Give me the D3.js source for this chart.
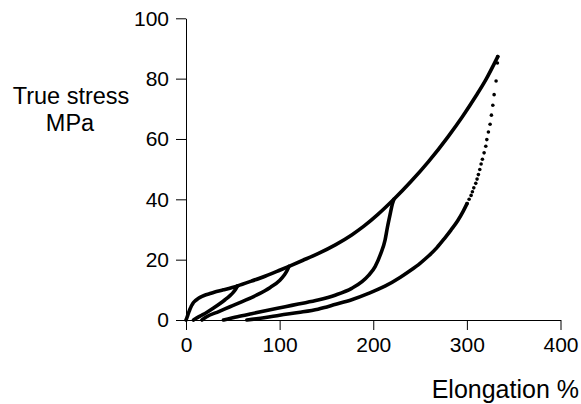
<!DOCTYPE html>
<html>
<head>
<meta charset="utf-8">
<script src="https://cdn.jsdelivr.net/npm/d3@7/dist/d3.min.js"></script>
<style>
  html, body { margin: 0; padding: 0; background: #fff; }
  svg { display: block; }
  text { font-family: "Liberation Sans", Arial, sans-serif; fill: #000; }
</style>
</head>
<body>
<svg id="chart" width="581" height="404"></svg>
<script>
// ---- data (Elongation %, True stress MPa) ----
const xTicks = [0, 100, 200, 300, 400];
const yTicks = [0, 20, 40, 60, 80, 100];

const loading = [[0,0],[1,0.8],[2,1.7],[3,2.6],[4,3.4],[5,4.1],[6,4.8],[7,5.3],[8,5.8],[10,6.4],[12,6.9],[15,7.5],[20,8.2],[25,8.7],[30,9.2],[40,10.0],[55,11.3],[70,12.9],[85,14.6],[100,16.5],[110,17.8],[125,19.8],[141,22.0],[160,25.0],[177,28.2],[190,31.1],[205,35.0],[222,40.0],[240,45.8],[259,52.5],[280,60.8],[295,67.3],[310,74.4],[320,79.5],[333,87.3]];

const unload55 = [[8,0],[10,0.4],[15,1.3],[22,2.5],[29,3.9],[36,5.4],[42,6.8],[47,8.1],[50,9.0],[53,10.2],[55,11.3]];

const unload110 = [[17,0],[22,1.1],[35,2.8],[47,4.4],[60,6.1],[75,8.2],[90,10.8],[100,13.1],[105,14.9],[108,16.4],[110,17.8]];

const unload222 = [[40,0],[55,1.1],[70,2.1],[90,3.4],[106,4.4],[120,5.3],[141,6.6],[160,8.3],[177,10.5],[188,12.7],[195,14.8],[202,17.7],[208,22.0],[212.6,26.5],[215,30.5],[218,35.0],[220.4,38.4],[222,40.0]];

const unload333Line = [[65,0],[85,0.8],[100,1.6],[120,2.5],[141,3.6],[160,5.2],[177,6.7],[195,8.8],[213,11.3],[229,14.2],[240,16.5],[250,18.8],[259,21.2],[268,24.0],[276,27.0],[283,29.8],[290,32.8],[296,36.0],[300.2,38.6]];

const unload333Dots = [[333,87.3],[332.6,85.2],[331.2,79.2],[329.1,74.7],[327.7,71.2],[326.2,67.9],[324.8,64.9],[323,62.3],[321.3,59.8],[320.2,57.6],[318.4,55.4],[316.6,53.3],[315.2,51.7],[313.8,49.9],[312.3,48.2],[310.9,46.7],[309.5,45.3],[307.4,43.8],[305.9,42.5],[304.5,41.3],[302.4,40.0],[300.2,38.6]];

// ---- drawing ----
const svg = d3.select("#chart");
const x = d3.scaleLinear().domain([0, 400]).range([186, 560.5]);
const y = d3.scaleLinear().domain([0, 100]).range([320, 18.3]);

const line = d3.line()
  .x(d => x(d[0]))
  .y(d => y(d[1]))
  .curve(d3.curveMonotoneX);

const curves = [loading, unload55, unload110, unload222, unload333Line];
svg.append("g").selectAll("path")
  .data(curves)
  .join("path")
  .attr("d", d => line(d.slice().sort((a, b) => a[0] - b[0])))
  .attr("fill", "none")
  .attr("stroke", "#000")
  .attr("stroke-width", 3.6)
  .attr("stroke-linecap", "round")
  .attr("stroke-linejoin", "round");

svg.append("g").selectAll("circle")
  .data(unload333Dots)
  .join("circle")
  .attr("cx", d => x(d[0]))
  .attr("cy", d => y(d[1]))
  .attr("r", 1.8)
  .attr("fill", "#000");

// axes
const xAxis = d3.axisBottom(x).tickValues(xTicks).tickSize(10).tickSizeOuter(0).tickPadding(7);
const yAxis = d3.axisLeft(y).tickValues(yTicks).tickSize(10).tickSizeOuter(0).tickPadding(7);

const gx = svg.append("g").attr("transform", "translate(0,320)").call(xAxis);
const gy = svg.append("g").attr("transform", "translate(186,0)").call(yAxis);

[gx, gy].forEach(g => {
  g.selectAll("path.domain").attr("stroke", "#000").attr("stroke-width", 1);
  g.selectAll(".tick line").attr("stroke", "#000").attr("stroke-width", 1);
  g.selectAll(".tick text")
    .style("font-family", '"Liberation Sans", Arial, sans-serif')
    .style("font-size", "21px")
    .attr("fill", "#000");
});

// axis titles
svg.append("text").attr("x", 71).attr("y", 104).attr("text-anchor", "middle")
  .style("font-size", "23.5px").text("True stress");
svg.append("text").attr("x", 70).attr("y", 131).attr("text-anchor", "middle")
  .style("font-size", "23.5px").text("MPa");
svg.append("text").attr("x", 579).attr("y", 398).attr("text-anchor", "end")
  .style("font-size", "25px").text("Elongation %");
</script>
</body>
</html>
